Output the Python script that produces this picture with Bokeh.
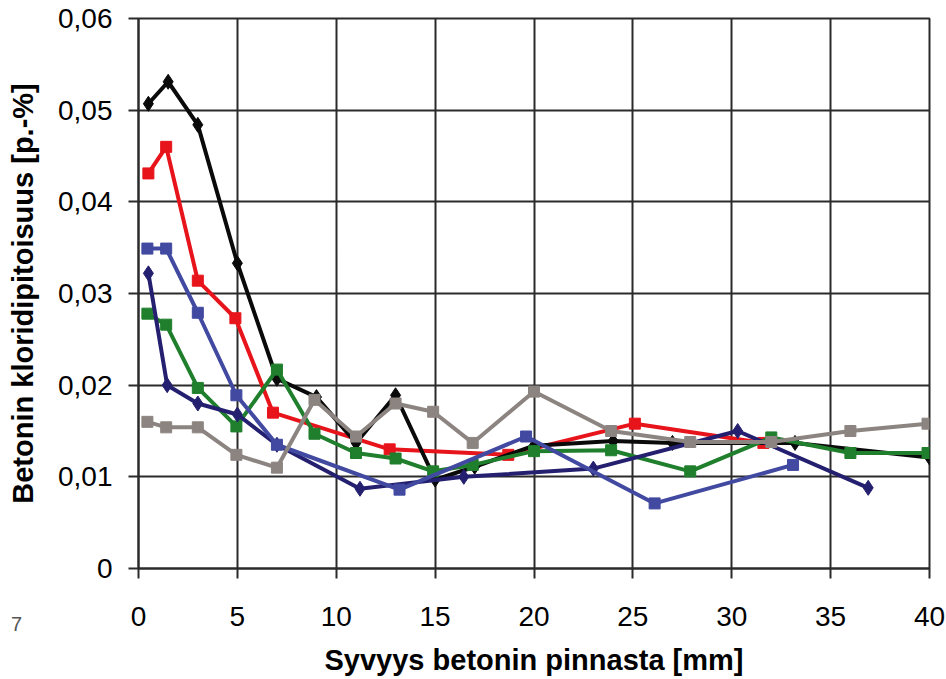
from bokeh.plotting import figure
from bokeh.models import Range1d, FixedTicker, CustomJSTickFormatter, Label
from bokeh.embed import file_html
from bokeh.resources import INLINE

# ---- data ----
black_x = [0.5, 1.5, 3, 5, 7, 9, 11, 13, 15, 17, 20, 24, 27, 33.2, 40]
black_y = [0.0507, 0.0531, 0.0484, 0.0333, 0.0207, 0.0187, 0.0137, 0.0189, 0.0097,
           0.0111, 0.0134, 0.0139, 0.0137, 0.0137, 0.0121]

red_x = [0.5, 1.4, 3, 4.9, 6.8, 12.7, 18.7, 25.1, 31.6]
red_y = [0.0431, 0.0460, 0.0314, 0.0273, 0.0170, 0.0130, 0.0124, 0.0158, 0.0137]

blue_x = [0.45, 1.4, 3, 4.95, 7, 13.2, 19.6, 26.1, 33.1]
blue_y = [0.0349, 0.0349, 0.0279, 0.0189, 0.0135, 0.0086, 0.0144, 0.0071, 0.0113]

navy_x = [0.5, 1.45, 3, 5, 7, 11.2, 16.45, 23, 30.3, 36.9]
navy_y = [0.0322, 0.0200, 0.0180, 0.0168, 0.0135, 0.0087, 0.0100, 0.0109, 0.0150, 0.0088]

green_x = [0.45, 1.4, 3, 4.95, 7, 8.9, 11, 13, 14.9, 16.9, 20, 23.9, 27.9, 32, 36, 39.9]
green_y = [0.0278, 0.0266, 0.0197, 0.0155, 0.0217, 0.0147, 0.0126, 0.0120, 0.0106,
           0.0113, 0.0128, 0.0129, 0.0106, 0.0143, 0.0126, 0.0126]

gray_x = [0.45, 1.4, 3, 4.95, 7, 8.9, 11, 13, 14.9, 16.9, 20, 23.9, 27.9, 32, 36, 39.9]
gray_y = [0.0160, 0.0154, 0.0154, 0.0124, 0.0110, 0.0184, 0.0144, 0.0180, 0.0171,
          0.0137, 0.0193, 0.0150, 0.0138, 0.0138, 0.0150, 0.0158]

x_ticks = [0, 5, 10, 15, 20, 25, 30, 35, 40]
y_ticks = [0, 0.01, 0.02, 0.03, 0.04, 0.05, 0.06]

x_title = "Syvyys betonin pinnasta [mm]"
y_title = "Betonin kloridipitoisuus [p.-%]"
corner_text = "7"

# ---- figure ----
TICK_FONT = "Liberation Sans"
TITLE_FONT = "Liberation Sans"
GRID = "#2b2b2b"

p = figure(width=946, height=678, output_backend="svg", toolbar_location=None,
           x_range=Range1d(0, 40), y_range=Range1d(0, 0.06),
           min_border_left=138, min_border_right=17, min_border_top=18, min_border_bottom=110)
p.background_fill_color = "white"
p.border_fill_color = "white"
p.outline_line_color = GRID
p.outline_line_width = 2

p.xaxis.ticker = FixedTicker(ticks=x_ticks)
p.yaxis.ticker = FixedTicker(ticks=y_ticks)
p.yaxis.formatter = CustomJSTickFormatter(
    code="return tick == 0 ? '0' : tick.toFixed(2).replace('.', ',');")

for ax in (p.xaxis[0], p.yaxis[0]):
    ax.axis_line_color = GRID
    ax.axis_line_width = 2
    ax.major_tick_line_color = GRID
    ax.major_tick_line_width = 2
    ax.major_tick_out = 10
    ax.major_tick_in = 0
    ax.minor_tick_line_color = None
    ax.major_label_text_font = TICK_FONT
    ax.major_label_text_font_size = "28px"
    ax.major_label_text_color = "black"
    ax.axis_label_text_font = TITLE_FONT
    ax.axis_label_text_font_style = "bold"
    ax.axis_label_text_font_size = "29px"
    ax.axis_label_text_color = "black"

p.xaxis.axis_label = x_title
p.yaxis.axis_label = y_title
p.xaxis.major_label_standoff = 28
p.xaxis.axis_label_standoff = 15
p.yaxis.major_label_standoff = 16
p.yaxis.axis_label_standoff = 16

p.xgrid.grid_line_color = GRID
p.ygrid.grid_line_color = GRID
p.xgrid.grid_line_width = 2
p.ygrid.grid_line_width = 2

series = [
    (red_x, red_y, "#e8141b", "square"),
    (black_x, black_y, "#0a0a0a", "diamond"),
    (green_x, green_y, "#1f7f2c", "square"),
    (navy_x, navy_y, "#24206f", "diamond"),
    (blue_x, blue_y, "#4149a0", "square"),
    (gray_x, gray_y, "#8c8480", "square"),
]
for xs, ys, col, mk in series:
    p.line(xs, ys, line_color=col, line_width=4)
    if mk == "square":
        p.scatter(xs, ys, marker="square", size=11, fill_color=col, line_color=col)
    else:
        p.scatter(xs, ys, marker="diamond", size=15, fill_color=col, line_color=col)

p.add_layout(Label(x=-6.17, y=-0.0061, text=corner_text, text_font=TICK_FONT,
                   text_font_size="20px", text_color="#555555",
                   text_align="center", text_baseline="middle"), "right")

open("out.html", "w").write(file_html(p, INLINE))
